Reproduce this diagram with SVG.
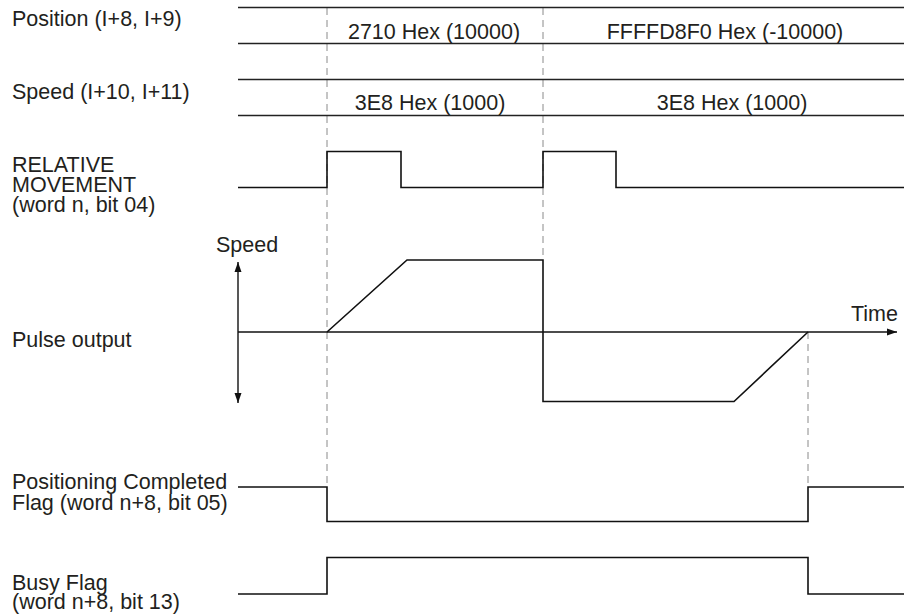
<svg xmlns="http://www.w3.org/2000/svg" width="904" height="615" viewBox="0 0 904 615">
<style>
text{font-family:"Liberation Sans",Arial,Helvetica,sans-serif;font-size:21.5px;fill:#231f20}
.sig{fill:none;stroke:#111;stroke-width:1.6;stroke-linejoin:miter}
.bus{fill:none;stroke:#222;stroke-width:1.4}
.guide{fill:none;stroke:#8a8a8a;stroke-width:1;stroke-dasharray:7 5}
.axis{fill:none;stroke:#111;stroke-width:1.4}
.mid{text-anchor:middle}
</style>
<defs>
<marker id="ah" viewBox="0 0 10 10" refX="10" refY="5" markerWidth="10" markerHeight="10" markerUnits="userSpaceOnUse" orient="auto">
<path d="M0,1.5 L10,5 L0,8.5 Z" fill="#111"/>
</marker>
</defs>
<rect width="904" height="615" fill="#fff"/>

<g id="connectors">
<line class="guide" x1="327" y1="8" x2="327" y2="487"/>
<line class="guide" x1="543" y1="8" x2="543" y2="260"/>
<line class="guide" x1="808" y1="332" x2="808" y2="487"/>
</g>

<g id="position">
<text x="12" y="26">Position (I+8, I+9)</text>
<line class="bus" x1="238" y1="7.5" x2="904" y2="7.5"/>
<line class="bus" x1="238" y1="43.5" x2="904" y2="43.5"/>
<text class="mid" x="434" y="39">2710 Hex (10000)</text>
<text class="mid" x="725" y="39">FFFFD8F0 Hex (-10000)</text>
</g>

<g id="speed">
<text x="12" y="99">Speed (I+10, I+11)</text>
<line class="bus" x1="238" y1="79.5" x2="904" y2="79.5"/>
<line class="bus" x1="238" y1="115.5" x2="904" y2="115.5"/>
<text class="mid" x="430" y="110">3E8 Hex (1000)</text>
<text class="mid" x="732" y="110">3E8 Hex (1000)</text>
</g>

<g id="relative-movement">
<text x="12" y="172">RELATIVE</text>
<text x="12" y="192">MOVEMENT</text>
<text x="12" y="212">(word n, bit 04)</text>
<path class="sig" d="M238,187.5 H327 V151.5 H401 V187.5 H543 V151.5 H616 V187.5 H904"/>
</g>

<g id="pulse-output">
<text x="12" y="347">Pulse output</text>
<text x="216" y="252">Speed</text>
<text x="851" y="321">Time</text>
<line class="axis" x1="238" y1="332" x2="238" y2="262" marker-end="url(#ah)"/>
<line class="axis" x1="238" y1="332" x2="238" y2="403" marker-end="url(#ah)"/>
<line class="axis" x1="238" y1="332" x2="897" y2="332" marker-end="url(#ah)"/>
<path class="sig" d="M327,332 L407,260 H543 V401.5 H734 L808,332"/>
</g>

<g id="positioning-completed">
<text x="12" y="489">Positioning Completed</text>
<text x="12" y="510">Flag (word n+8, bit 05)</text>
<path class="sig" d="M238,487 H327 V521.5 H808 V487 H904"/>
</g>

<g id="busy-flag">
<text x="12" y="590">Busy Flag</text>
<text x="12" y="609">(word n+8, bit 13)</text>
<path class="sig" d="M238,594 H327 V557.5 H808 V594 H904"/>
</g>
</svg>
